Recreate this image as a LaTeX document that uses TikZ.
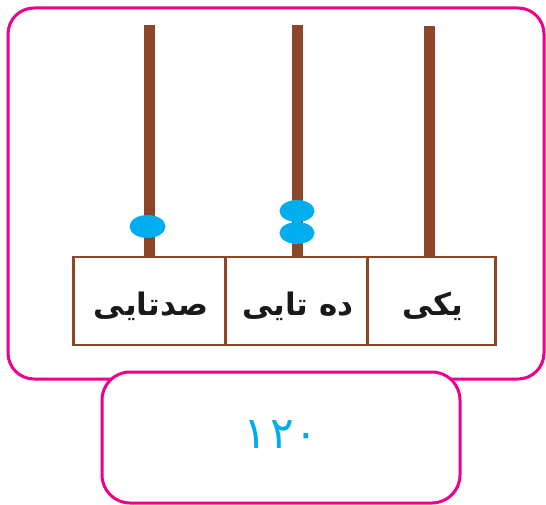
\documentclass[tikz,border=0pt]{standalone}
\usepackage{fontspec}
\usetikzlibrary{shapes.geometric}
\TeXXeTstate=1
\newfontfamily\arabicfont[Script=Arabic]{DejaVu Sans}
\definecolor{frame}{HTML}{EC008C}
\definecolor{rod}{HTML}{8B4527}
\definecolor{bead}{HTML}{00AEEF}
\tikzset{
  frameline/.style={draw=frame, line width=3pt, rounded corners=26pt},
  cell/.style={draw=rod, line width=2.2pt, minimum height=88pt, inner sep=0pt},
  celltext/.style={font=\arabicfont\bfseries\fontsize{31}{33}\selectfont, text=black!90, inner sep=0pt},
  rodline/.style={draw=rod, line width=11pt},
  beadshape/.style={ellipse, fill=bead, minimum width=36pt, minimum height=23pt, inner sep=0pt},
}
\begin{document}
\begin{tikzpicture}[x=1pt,y=-1pt]
\useasboundingbox (0,0) rectangle (546,505);
\path[frameline] (8,8) rectangle (544,379);
\node[draw=frame, line width=3pt, rounded corners=28pt, fill=white, minimum width=358pt, minimum height=131pt, inner sep=0pt] (total) at (281,437.5) {};
\node[font=\arabicfont\fontsize{44}{46}\selectfont, text=bead, inner sep=0pt] (num) at (281,435) {۱\hspace{3pt}۲\hspace{1pt}۰};
\node[cell, minimum width=152pt] (hund) at (149.5,301) {};
\node[cell, minimum width=142pt] (tens) at (296.5,301) {};
\node[cell, minimum width=128pt] (ones) at (431.5,301) {};
\node[celltext] (lh) at (151,306) {\beginR صدتایی\endR};
\node[celltext] (lt) at (298,306) {\beginR ده تایی\endR};
\node[celltext] (lo) at (433,306) {\beginR یکی\endR};
\coordinate (t1) at (149,25);
\coordinate (t2) at (297,25);
\coordinate (t3) at (429,26);
\draw[rodline] (t1) -- (t1 |- hund.north);
\draw[rodline] (t2) -- (t2 |- tens.north);
\draw[rodline] (t3) -- (t3 |- ones.north);
\node[beadshape] (b1) at (147.5,226.5) {};
\node[beadshape, minimum width=35pt, minimum height=22pt] (b2) at (297,211) {};
\node[beadshape, minimum width=35pt, minimum height=22pt] (b3) at (297,233) {};
\end{tikzpicture}
\end{document}
